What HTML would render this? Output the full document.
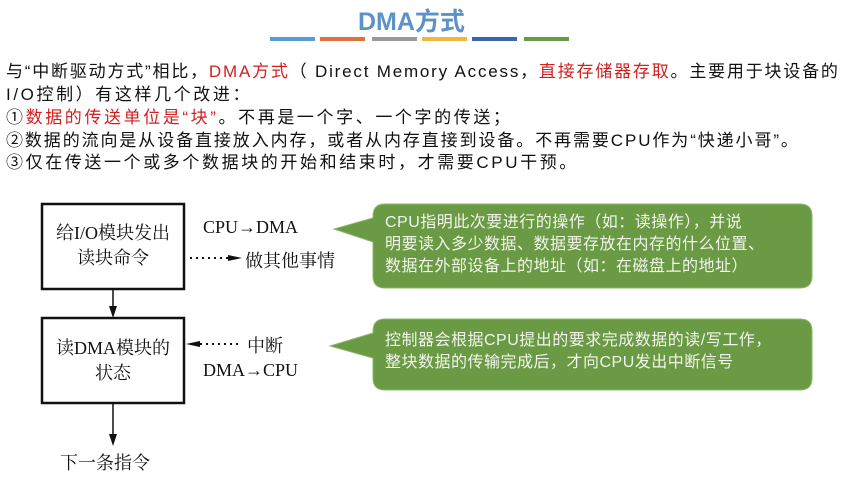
<!DOCTYPE html>
<html><head><meta charset="utf-8"><style>
body{margin:0;width:852px;height:483px;background:#fff;position:relative;overflow:hidden;font-family:"Liberation Sans","Noto Sans CJK SC",sans-serif;}
.a{position:absolute;white-space:nowrap;}
.t{font-size:17px;letter-spacing:2.6px;color:#111;left:6px;line-height:23px;}
.r{color:#d02020;}
.s{font-family:"Liberation Serif","Noto Serif CJK SC",serif;font-size:18px;color:#111;}
.bar{position:absolute;top:37px;height:4px;width:45px;}
.bt{position:absolute;left:385px;color:#f2f5ee;font-size:16px;letter-spacing:0.5px;line-height:22px;white-space:nowrap;}
</style></head><body>
<div class="a" style="left:358px;top:2px;font-size:25px;font-weight:bold;color:#5b93c8;">DMA方式</div>
<div class="bar" style="left:270px;background:#5b9bd5"></div>
<div class="bar" style="left:320px;background:#e07040"></div>
<div class="bar" style="left:372px;background:#999"></div>
<div class="bar" style="left:422px;background:#f0b840"></div>
<div class="bar" style="left:472px;background:#3a66b0"></div>
<div class="bar" style="left:524px;background:#6a9a43"></div>
<div class="a t" style="top:60px;letter-spacing:1.8px">与“中断驱动方式”相比，<span class="r">DMA方式</span>（ Direct Memory Access，<span class="r">直接存储器存取</span>。主要用于块设备的</div>
<div class="a t" style="top:83px">I/O控制）有这样几个改进：</div>
<div class="a t" style="top:106px">①<span class="r">数据的传送单位是“块”</span>。不再是一个字、一个字的传送；</div>
<div class="a t" style="top:129px;letter-spacing:1.9px">②数据的流向是从设备直接放入内存，或者从内存直接到设备。不再需要CPU作为“快递小哥”。</div>
<div class="a t" style="top:151px">③仅在传送一个或多个数据块的开始和结束时，才需要CPU干预。</div>
<svg class="a" style="left:0;top:0" width="852" height="483">
<rect x="42" y="204" width="142" height="85" fill="none" stroke="#111" stroke-width="2.5"/>
<rect x="42" y="318" width="142" height="85" fill="none" stroke="#111" stroke-width="2.5"/>
<line x1="113" y1="289" x2="113" y2="308" stroke="#111" stroke-width="1.5"/>
<polygon points="109,306 117,306 113,318" fill="#111"/>
<line x1="113" y1="403" x2="113" y2="436" stroke="#111" stroke-width="1.5"/>
<polygon points="109,434 117,434 113,446" fill="#111"/>
<line x1="190" y1="258" x2="230" y2="258" stroke="#111" stroke-width="2" stroke-dasharray="2,4"/>
<polygon points="228,255 242,258 228,261" fill="#111"/>
<line x1="200" y1="344" x2="240" y2="344" stroke="#111" stroke-width="2" stroke-dasharray="2,4"/>
<polygon points="200,341 186,344 200,347" fill="#111"/>
<path d="M385,204 H800 Q812,204 812,216 V276 Q812,288 800,288 H385 Q373,288 373,276 V242 L334,229 L373,218 V216 Q373,204 385,204 Z" fill="#6a9a43" stroke="#8ab86a" stroke-width="1"/>
<path d="M385,319 H800 Q812,319 812,331 V378 Q812,390 800,390 H385 Q373,390 373,378 V358 L330,346 L373,333 V331 Q373,319 385,319 Z" fill="#6a9a43" stroke="#8ab86a" stroke-width="1"/>
</svg>
<div class="a s" style="left:44px;top:221px;width:138px;text-align:center;line-height:25px;">给I/O模块发出<br>读块命令</div>
<div class="a s" style="left:44px;top:336px;width:138px;text-align:center;line-height:25px;">读DMA模块的<br>状态</div>
<div class="a s" style="left:203px;top:217px;">CPU→DMA</div>
<div class="a s" style="left:245px;top:247px;">做其他事情</div>
<div class="a s" style="left:247px;top:332px;">中断</div>
<div class="a s" style="left:203px;top:360px;">DMA→CPU</div>
<div class="a s" style="left:60px;top:449px;">下一条指令</div>
<div class="bt" style="top:212px">CPU指明此次要进行的操作（如：读操作），并说<br>明要读入多少数据、数据要存放在内存的什么位置、<br>数据在外部设备上的地址（如：在磁盘上的地址）</div>
<div class="bt" style="top:330px">控制器会根据CPU提出的要求完成数据的读/写工作，<br>整块数据的传输完成后，才向CPU发出中断信号</div>
</body></html>
